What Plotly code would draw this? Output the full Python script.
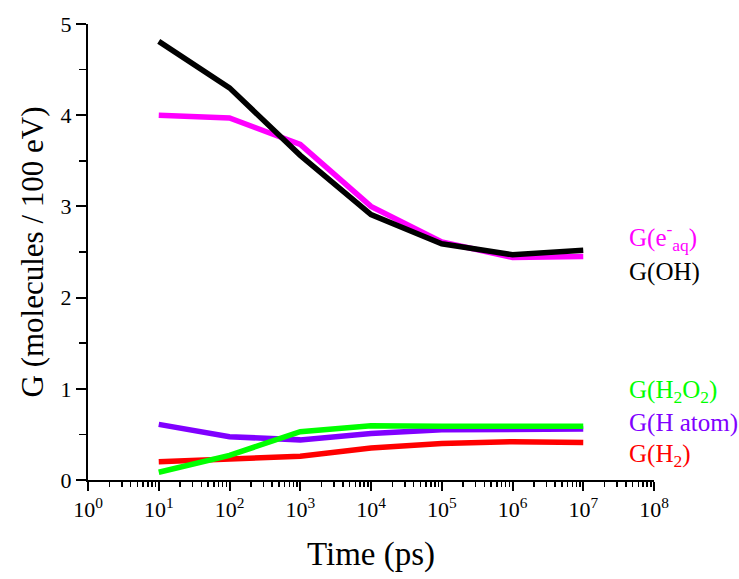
import plotly.graph_objects as go

time_ps = [1e1, 1e2, 1e3, 1e4, 1e5, 1e6, 1e7]
g_eaq = [4.00, 3.97, 3.68, 3.00, 2.61, 2.44, 2.45]
g_oh = [4.81, 4.30, 3.56, 2.91, 2.59, 2.47, 2.52]
g_h2o2 = [0.085, 0.27, 0.53, 0.595, 0.59, 0.59, 0.59]
g_hatom = [0.61, 0.475, 0.44, 0.51, 0.55, 0.555, 0.56]
g_h2 = [0.20, 0.225, 0.26, 0.35, 0.40, 0.42, 0.41]

x_tick_vals = [1e0, 1e1, 1e2, 1e3, 1e4, 1e5, 1e6, 1e7, 1e8]
x_tick_text = ["10<sup>%d</sup>" % i for i in range(9)]

series = [
    ("G(H<sub>2</sub>)", g_h2, "#FF0000", 0.274),
    ("G(H atom)", g_hatom, "#8000FF", 0.625),
    ("G(H<sub>2</sub>O<sub>2</sub>)", g_h2o2, "#00FF00", 0.965),
    ("G(e<sup>-</sup><sub>aq</sub>)", g_eaq, "#FF00FF", 2.66),
    ("G(OH)", g_oh, "#000000", 2.28),
]

FONT = "Liberation Serif"

fig = go.Figure()
for name, vals, color, ly in series:
    fig.add_trace(go.Scatter(x=time_ps, y=vals, mode="lines", name=name,
                             line=dict(color=color, width=5.5), showlegend=False))
    fig.add_annotation(x=0.952, xref="paper", y=ly, yref="y", text=name,
                       showarrow=False, xanchor="left", yanchor="middle",
                       font=dict(family=FONT, size=25, color=color))

fig.update_layout(
    width=739, height=579,
    margin=dict(l=88, r=85, t=24, b=99, autoexpand=False),
    paper_bgcolor="white", plot_bgcolor="white",
    font=dict(family=FONT, color="black"),
    xaxis=dict(
        type="log", range=[0, 8], tickmode="array", tickvals=x_tick_vals, ticktext=x_tick_text,
        showgrid=False, zeroline=False, showline=True, linecolor="black", linewidth=2,
        ticks="outside", ticklen=9, tickwidth=2, tickcolor="black",
        minor=dict(dtick="D1", ticks="outside", ticklen=5, tickwidth=1.5, tickcolor="black", showgrid=False),
        tickfont=dict(family=FONT, size=22, color="black"),
        title=dict(text="Time (ps)", font=dict(family=FONT, size=33, color="black"), standoff=20),
    ),
    yaxis=dict(
        range=[0, 5], dtick=1,
        showgrid=False, zeroline=False, showline=True, linecolor="black", linewidth=2,
        ticks="outside", ticklen=10, tickwidth=2, tickcolor="black",
        minor=dict(dtick=0.5, ticks="outside", ticklen=7, tickwidth=1.5, tickcolor="black", showgrid=False),
        tickfont=dict(family=FONT, size=22, color="black"),
        title=dict(text="G (molecules / 100 eV)", font=dict(family=FONT, size=31, color="black"), standoff=8),
    ),
)

# remove the default page margin so the figure fills the window exactly
fig.write_html("out.html",
               config={"displayModeBar": False, "staticPlot": True},
               post_script="document.body.style.margin='0';document.body.style.overflow='hidden';")
